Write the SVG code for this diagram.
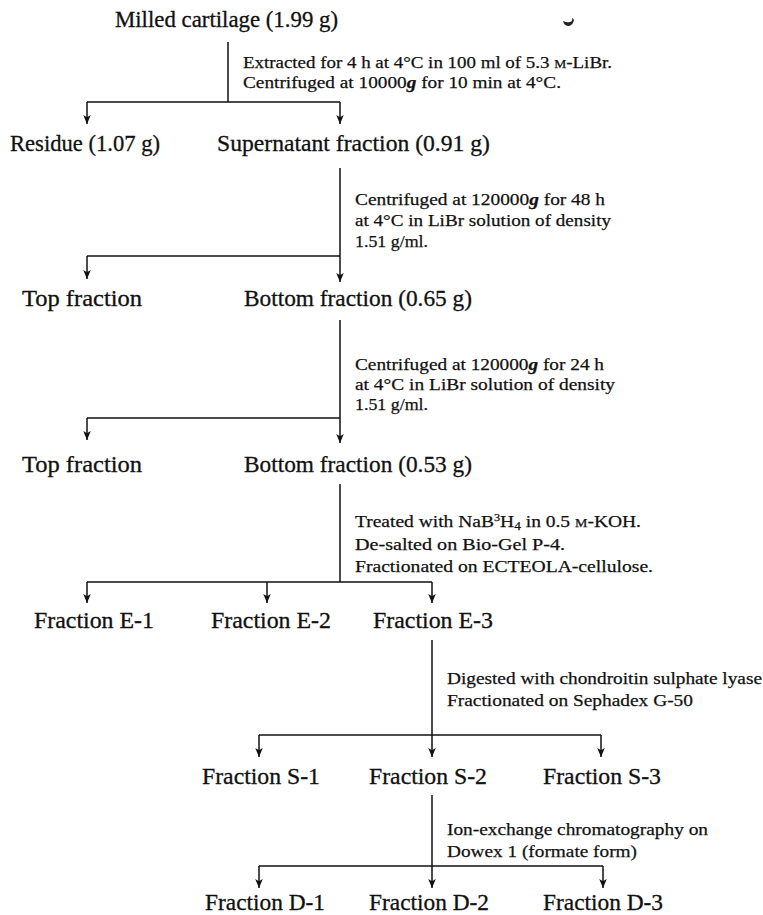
<svg xmlns="http://www.w3.org/2000/svg" width="763" height="915" viewBox="0 0 763 915">
<defs>
<style>
.node{font-family:"Liberation Serif","Times New Roman",serif;font-size:23px;fill:#111;stroke:#111;stroke-width:0.3}
.ann{font-family:"Liberation Serif","Times New Roman",serif;font-size:17.5px;fill:#111;stroke:#111;stroke-width:0.25}
.conn path{fill:none;stroke:#111;stroke-width:1.5}
.sc{font-size:12.5px}
.bg{font-style:italic;font-weight:bold}
</style>
<marker id="ah" viewBox="0 0 10 10" refX="10" refY="5" markerWidth="9" markerHeight="9" markerUnits="userSpaceOnUse" orient="auto">
<path d="M0,0.8 L10,5 L0,9.2 L2.5,5 z" fill="#111"/>
</marker>
</defs>
<rect width="763" height="915" fill="#fff"/>

<g id="connectors" class="conn">
<path d="M228,42 V102 M87,102 H340"/>
<path d="M87,102 V124" marker-end="url(#ah)"/>
<path d="M340,102 V124" marker-end="url(#ah)"/>
<path d="M340,168 V282" marker-end="url(#ah)"/>
<path d="M87,256 H340"/>
<path d="M87,256 V279" marker-end="url(#ah)"/>
<path d="M340,320 V443" marker-end="url(#ah)"/>
<path d="M87,418 H340"/>
<path d="M87,418 V440" marker-end="url(#ah)"/>
<path d="M340,484 V582 M87,582 H432"/>
<path d="M87,582 V603" marker-end="url(#ah)"/>
<path d="M267,582 V603" marker-end="url(#ah)"/>
<path d="M432,582 V603" marker-end="url(#ah)"/>
<path d="M432,640 V757" marker-end="url(#ah)"/>
<path d="M259,735 H601"/>
<path d="M259,735 V757" marker-end="url(#ah)"/>
<path d="M601,735 V757" marker-end="url(#ah)"/>
<path d="M432,795 V888" marker-end="url(#ah)"/>
<path d="M259,866 H603"/>
<path d="M259,866 V888" marker-end="url(#ah)"/>
<path d="M603,866 V888" marker-end="url(#ah)"/>
</g>

<g id="annotations" class="ann">
<g id="ann-extraction">
<text x="243" y="68" textLength="369" lengthAdjust="spacingAndGlyphs">Extracted for 4 h at 4°C in 100 ml of 5.3 <tspan class="sc">M</tspan>-LiBr.</text>
<text x="243" y="88" textLength="318" lengthAdjust="spacingAndGlyphs">Centrifuged at 10000<tspan class="bg">g</tspan> for 10 min at 4°C.</text>
</g>
<g id="ann-centrifuge1">
<text x="355" y="205" textLength="250" lengthAdjust="spacingAndGlyphs">Centrifuged at 120000<tspan class="bg">g</tspan> for 48 h</text>
<text x="355" y="226" textLength="256" lengthAdjust="spacingAndGlyphs">at 4°C in LiBr solution of density</text>
<text x="355" y="247" textLength="73" lengthAdjust="spacingAndGlyphs">1.51 g/ml.</text>
</g>
<g id="ann-centrifuge2">
<text x="355" y="370" textLength="249" lengthAdjust="spacingAndGlyphs">Centrifuged at 120000<tspan class="bg">g</tspan> for 24 h</text>
<text x="355" y="390" textLength="260" lengthAdjust="spacingAndGlyphs">at 4°C in LiBr solution of density</text>
<text x="355" y="410" textLength="73" lengthAdjust="spacingAndGlyphs">1.51 g/ml.</text>
</g>
<g id="ann-treatment">
<text x="355" y="527" textLength="286" lengthAdjust="spacingAndGlyphs">Treated with NaB<tspan font-size="11" dy="-6">3</tspan><tspan dy="6">H</tspan><tspan font-size="12" dy="3">4</tspan><tspan dy="-3"> in 0.5 </tspan><tspan class="sc">M</tspan>-KOH.</text>
<text x="355" y="550" textLength="210" lengthAdjust="spacingAndGlyphs">De-salted on Bio-Gel P-4.</text>
<text x="355" y="572" textLength="298" lengthAdjust="spacingAndGlyphs">Fractionated on ECTEOLA-cellulose.</text>
</g>
<g id="ann-digestion">
<text x="447" y="684" textLength="315" lengthAdjust="spacingAndGlyphs">Digested with chondroitin sulphate lyase</text>
<text x="447" y="706" textLength="246" lengthAdjust="spacingAndGlyphs">Fractionated on Sephadex G-50</text>
</g>
<g id="ann-ionexchange">
<text x="447" y="835" textLength="261" lengthAdjust="spacingAndGlyphs">Ion-exchange chromatography on</text>
<text x="447" y="857" textLength="190" lengthAdjust="spacingAndGlyphs">Dowex 1 (formate form)</text>
</g>
</g>

<g id="milled-cartilage" class="node"><text x="115" y="27" textLength="223" lengthAdjust="spacingAndGlyphs">Milled cartilage (1.99 g)</text></g>
<g id="residue" class="node"><text x="10" y="151" textLength="150" lengthAdjust="spacingAndGlyphs">Residue (1.07 g)</text></g>
<g id="supernatant" class="node"><text x="217" y="151" textLength="273" lengthAdjust="spacingAndGlyphs">Supernatant fraction (0.91 g)</text></g>
<g id="top-fraction-1" class="node"><text x="22" y="306" textLength="120" lengthAdjust="spacingAndGlyphs">Top fraction</text></g>
<g id="bottom-fraction-1" class="node"><text x="244" y="306" textLength="228" lengthAdjust="spacingAndGlyphs">Bottom fraction (0.65 g)</text></g>
<g id="top-fraction-2" class="node"><text x="22" y="472" textLength="120" lengthAdjust="spacingAndGlyphs">Top fraction</text></g>
<g id="bottom-fraction-2" class="node"><text x="244" y="472" textLength="228" lengthAdjust="spacingAndGlyphs">Bottom fraction (0.53 g)</text></g>
<g id="fraction-e1" class="node"><text x="34" y="628" textLength="120" lengthAdjust="spacingAndGlyphs">Fraction E-1</text></g>
<g id="fraction-e2" class="node"><text x="211" y="628" textLength="120" lengthAdjust="spacingAndGlyphs">Fraction E-2</text></g>
<g id="fraction-e3" class="node"><text x="373" y="628" textLength="120" lengthAdjust="spacingAndGlyphs">Fraction E-3</text></g>
<g id="fraction-s1" class="node"><text x="202" y="784" textLength="118" lengthAdjust="spacingAndGlyphs">Fraction S-1</text></g>
<g id="fraction-s2" class="node"><text x="369" y="784" textLength="118" lengthAdjust="spacingAndGlyphs">Fraction S-2</text></g>
<g id="fraction-s3" class="node"><text x="543" y="784" textLength="118" lengthAdjust="spacingAndGlyphs">Fraction S-3</text></g>
<g id="fraction-d1" class="node"><text x="205" y="910" textLength="120" lengthAdjust="spacingAndGlyphs">Fraction D-1</text></g>
<g id="fraction-d2" class="node"><text x="369" y="910" textLength="120" lengthAdjust="spacingAndGlyphs">Fraction D-2</text></g>
<g id="fraction-d3" class="node"><text x="543" y="910" textLength="120" lengthAdjust="spacingAndGlyphs">Fraction D-3</text></g>

<path d="M563,21 q1,5 6,5 q4,-1 5,-6 q-1,-2 -2,-2 q1,3 -2,4 q-3,1 -7,-1 z" fill="#222"/>
</svg>
